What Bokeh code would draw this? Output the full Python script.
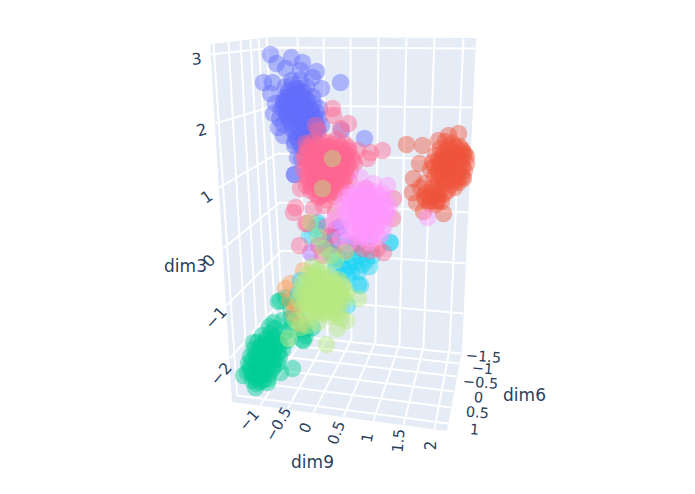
from bokeh.plotting import figure
from bokeh.embed import file_html
from bokeh.resources import INLINE
from bokeh.models import ColumnDataSource
from bokeh.core.properties import value

# ---- scatter clusters (projected positions) ----
blue_x = [270,291,302,276,285,316,300,263,340,321,272,270,312,275,273,278,283,301,294,364,341,297,294,
          285,292,298,304,288,295,301,307,313,283,290,297,303,310,316,286,293,299,306,312,318,289,296,302,308,315,321,292,298,305,311,317,295,301,308,314,298,304,310,287,281,279,291,300,306,283,294,309,319,303,290,296,301,286,312,
          288,295,302,285,292,299,306,283,290,297,304,311,286,293,300,307,314,289,296,303,310,317,292,299,306,313,296,303,310,300,307,284,288,305,315,294]
blue_y = [54,57,62,63,68,71,70,82,82,88,82,93,77,103,113,127,135,158,174,138,130,157,174,
          86,84,88,92,93,92,96,99,103,101,100,102,105,108,112,108,109,111,113,115,118,116,117,119,121,123,125,124,126,128,130,131,132,134,136,137,140,141,142,97,108,118,80,79,86,124,145,129,108,147,108,99,113,114,96,
          90,88,91,97,96,94,100,105,104,107,103,110,112,113,116,111,117,120,122,124,119,127,129,131,125,133,137,139,134,144,146,102,118,109,128,141]
red_x = [406,422,419,458,448,438,413,412,416,423,443,438,463,
         445,452,459,462,440,447,454,461,466,435,442,449,456,463,432,439,446,453,460,466,430,437,444,451,458,464,434,441,448,455,462,437,444,451,458,440,447,454,432,438,444,426,431,436,425,429,435,441,420,424,
         448,455,443,450,457,464,438,445,452,459,434,441,448,455,462,438,445,452,459,442,449,456,434,429,437,424,430]
red_y = [144,145,163,133,135,140,178,192,202,211,213,200,178,
         141,143,146,151,148,150,152,149,156,155,157,156,158,155,162,163,161,164,162,163,169,170,168,171,169,170,176,177,175,178,176,183,182,184,182,189,190,187,187,195,193,192,197,200,199,203,204,201,187,183,
         146,147,153,153,154,153,159,160,159,159,166,166,165,166,166,173,173,174,173,180,179,180,191,195,195,196,201]
green_x = [255,243,292,302,273,282,290,253,280,303,280,285,290,296,278,304,312,290,298,300,305,
           262,270,276,257,265,272,279,253,260,268,275,282,250,257,265,272,279,248,255,262,270,277,250,257,265,272,247,254,261,268,252,260,267,256,263,274,284,287,269,259,
           266,273,260,268,275,256,263,271,278,252,259,267,274,250,258,266,273,252,260,268,256,263]
green_y = [387,375,368,339,322,320,328,342,372,340,300,297,308,300,301,330,327,318,318,328,335,
           335,333,337,342,341,340,344,349,348,350,347,349,356,355,357,354,356,363,362,364,361,363,370,369,371,368,372,376,375,378,380,381,382,383,345,328,332,340,326,374,
           338,337,345,345,344,352,353,352,352,359,360,359,359,366,366,367,365,373,373,373,378,379]
purple_x = [310,336,345,352,330,340,325]
purple_y = [252,228,240,244,236,226,243]
orange_x = [285,290,303,293,300,296,289]
orange_y = [288,283,270,313,323,305,300]
cyan_x = [338,345,352,359,366,341,348,355,362,369,344,351,358,335,372,330,326,332,
          360,347,358,389,347,317,318,315,300,363,390,333,343,322,309,355,298]
cyan_y = [257,254,258,255,259,263,265,262,264,266,270,272,271,268,255,252,247,240,
          285,275,284,242,305,222,225,228,280,240,242,258,246,240,235,247,293]
pink_x = [382,370,367,357,295,305,393,392,300,365,335,313,323,332,333,348,315,318,340,299,318,322,383,377,362,307,293,
          305,312,320,328,336,344,309,316,324,332,340,348,304,311,319,327,335,343,351,307,315,323,331,339,347,354,303,310,318,326,334,342,350,306,314,322,330,338,346,309,317,325,333,341,349,312,320,328,336,344,315,323,331,339,310,318,326,334,308,316,324,332,313,321,329,337,320,328,316,324,
          308,316,324,332,340,348,306,314,322,330,338,346,304,312,320,328,336,344,352,307,315,323,331,339,347,310,318,326,334,342,313,321,329,337,345,316,324,332,340,306,328,320,
          335,345,330,358,370,326]
pink_y = [150,152,158,150,207,223,198,218,188,188,212,208,205,108,115,123,125,130,128,245,245,255,252,248,248,223,212,
          143,141,140,142,139,143,149,148,147,150,148,150,155,156,154,155,157,154,157,162,161,163,160,162,161,163,169,168,170,167,169,168,170,175,176,174,176,175,174,182,181,183,180,182,180,187,189,186,188,186,193,194,192,193,190,197,199,196,178,160,150,168,172,158,182,156,176,146,152,190,
          146,144,145,144,146,147,152,152,151,153,152,153,159,158,159,158,160,159,160,166,165,166,164,166,166,172,171,173,172,171,178,178,179,179,177,185,184,185,185,185,192,195,
          245,250,235,243,250,226]
magenta_x = [360,373,387,427,333,340,348,
             350,358,366,374,382,345,353,361,369,377,385,342,350,358,366,374,382,389,345,353,361,369,377,385,348,356,364,372,380,352,360,368,376,384,358,366,374,382,362,370,378,368,355,347,387,
             354,362,370,378,349,357,365,373,381,346,354,362,370,378,386,350,358,366,374,382,354,362,370,378,358,366,374,362,370]
magenta_y = [177,183,185,217,220,238,243,
             192,190,188,191,193,197,198,196,199,197,199,205,204,206,203,205,204,206,212,211,213,210,212,211,219,218,220,217,219,225,226,224,226,225,232,231,233,232,237,238,237,242,236,228,216,
             194,193,194,195,201,202,200,201,202,208,208,209,207,208,209,215,215,216,214,215,222,222,221,222,228,228,228,234,234]
lime_x = [326,337,333,358,307,346,317,300,288,332,322,295,340,335,345,323,330,310,318,
          312,320,306,314,322,330,338,302,310,318,326,334,342,300,308,316,324,332,340,346,298,306,314,322,330,338,344,302,310,318,326,334,306,314,322,330,338,
          316,310,318,326,334,304,312,320,328,336,344,303,311,319,327,335,342,306,314,322,330,338,310,318,326]
lime_y = [344,328,313,298,325,320,322,327,338,158,188,320,318,260,252,248,255,222,236,
          266,268,274,275,273,276,279,283,282,284,281,285,284,291,290,292,289,293,291,293,299,298,300,297,301,299,300,307,306,308,305,307,314,315,313,316,312,
          271,278,279,278,281,287,287,288,287,288,288,295,295,296,295,296,296,303,303,303,303,304,310,311,311]

# ---- axis text ----
z_ticks = ["3", "2", "1", "0", "\u22121", "\u22122"]
x_ticks = ["\u22121", "\u22120.5", "0", "0.5", "1", "1.5", "2"]
y_ticks = ["\u22121.5", "\u22121", "\u22120.5", "0", "0.5", "1"]

# ---- scene geometry (page pixels) ----
W, H = 679, 478
LT, BT, RT = (210, 44), (272, 37), (475, 38)       # top corners of the walls
LB, BB, RB = (232, 401), (285, 332), (461, 350)    # floor left/back/right-back
FR = (446, 430)                                    # floor front right
PANE = "#E5ECF6"
INK = "#2a3f5f"

def on_x(a, b, x):
    t = (x - a[0]) / (b[0] - a[0])
    return (x, a[1] + t * (b[1] - a[1]))

def on_y(a, b, y):
    t = (y - a[1]) / (b[1] - a[1])
    return (a[0] + t * (b[0] - a[0]), y)

p = figure(width=W, height=H, x_range=(0, W), y_range=(H, 0),
           output_backend="svg", toolbar_location=None, min_border=0)
p.axis.visible = False
p.grid.visible = False
p.outline_line_color = None
p.background_fill_color = "white"
p.border_fill_color = "white"

panes = [(LT, BT, BB, LB), (BT, RT, RB, BB), (LB, BB, RB, FR)]
p.patches([[c[0] for c in q] for q in panes], [[c[1] for c in q] for q in panes],
          fill_color=PANE, line_color=PANE, line_width=1)

lines = []
# z grid lines on both walls
z_left = [54, 123, 187, 248, 305, 358]
z_back = [47, 105, 153, 202, 250, 297]
z_right = [48, 107, 160, 212, 263, 313]
for a, b, c in zip(z_left, z_back, z_right):
    lines.append([on_y(LT, LB, a), on_y(BT, BB, b), on_y(RT, RB, c)])
# dim9 grid lines: back wall and floor
x_top = [297, 323, 350, 378, 406, 434, 463]
x_back = [305, 327, 351, 375, 399, 423, 449]
x_front = [260, 287, 313, 343, 373, 403, 434]
for a, b, c in zip(x_top, x_back, x_front):
    lines.append([on_x(BT, RT, a), on_x(BB, RB, b), on_x(LB, FR, c)])
# dim6 grid lines: left wall and floor
y_top = [213, 228, 240, 250, 258, 266]
y_right = [423, 407, 391, 376, 363, 353]
for a, c in zip(y_top, y_right):
    t = (FR[1] - c) / (FR[1] - RB[1])
    mid = (LB[0] + t * (BB[0] - LB[0]), LB[1] + t * (BB[1] - LB[1]))
    lines.append([on_x(LT, BT, a), mid, on_y(FR, RB, c)])
p.multi_line([[c[0] for c in l] for l in lines], [[c[1] for c in l] for l in lines],
             line_color="white", line_width=2)

series = [(blue_x, blue_y, "#636EFA"), (red_x, red_y, "#EF553B"), (green_x, green_y, "#00CC96"),
          (purple_x, purple_y, "#AB63FA"), (orange_x, orange_y, "#FFA15A"), (cyan_x, cyan_y, "#19D3F3"),
          (pink_x, pink_y, "#FF6692"), (magenta_x, magenta_y, "#FF97FF"), (lime_x, lime_y, "#B6E880")]
for xs, ys, col in series:
    p.scatter(xs, ys, size=17.5, fill_color=col, fill_alpha=0.44, line_color=None)

def labels(texts, xs, ys, angles, size):
    src = ColumnDataSource(dict(x=xs, y=ys, t=texts, a=angles))
    p.text("x", "y", text="t", angle="a", angle_units="deg", source=src,
           text_font=value("DejaVu Sans"), text_font_size=size, text_color=INK,
           text_align="center", text_baseline="middle")

labels(z_ticks, [196, 201, 206, 208, 215, 220], [58, 129, 196, 260, 317, 373], [5, 15, 35, 45, 48, 50], "16px")
labels(x_ticks, [248, 277, 304, 335, 366, 397, 429], [419, 423, 427, 432, 437, 440, 445],
       [50, 60, 65, 70, 80, 85, 90], "15px")
labels(y_ticks, [483, 482, 480, 478, 477, 474], [356, 368, 382, 397, 412, 429], [-5] * 6, "14.5px")
labels(["dim3", "dim9", "dim6"], [185, 312, 524], [265, 461, 394], [0, 0, 0], "17px")

open("out.html", "w").write(file_html(p, INLINE))
